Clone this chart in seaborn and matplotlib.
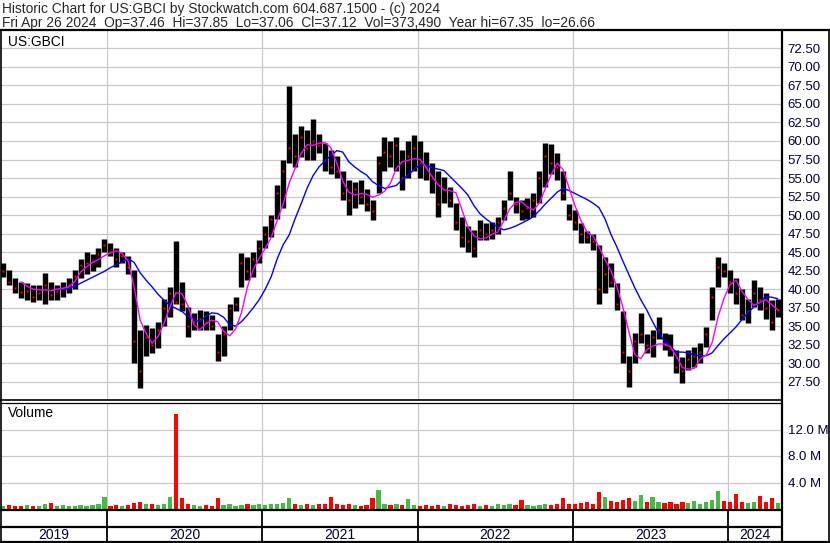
import numpy as np
import pandas as pd
import matplotlib
matplotlib.use("Agg")
import matplotlib.pyplot as plt
from matplotlib.lines import Line2D
import seaborn as sns

# ---------------- data (bi-weekly bars) ----------------
dates = pd.date_range("2019-05-03", periods=131, freq="14D")

high = [43.5, 42.6, 41.5, 41.0, 40.8, 40.5, 40.5, 42.2, 41.0, 40.5,
        41.0, 41.5, 42.6, 44.0, 45.0, 44.8, 45.5, 46.7, 46.2, 45.5,
        45.0, 44.5, 42.6, 34.5, 35.2, 34.8, 35.5, 38.6, 40.3, 46.5,
        41.0, 37.6, 36.8, 37.2, 37.0, 36.5, 34.0, 35.0, 38.0, 39.0,
        44.9, 44.4, 45.0, 46.6, 48.5, 50.0, 54.0, 57.5, 67.4, 61.0,
        62.0, 61.5, 63.0, 61.0, 59.7, 58.8, 58.0, 56.0, 54.7, 54.5,
        54.7, 53.5, 52.0, 58.0, 60.5, 60.0, 60.5, 58.8, 60.0, 60.8,
        60.0, 58.5, 57.0, 56.0, 55.2, 53.8, 51.6, 49.7, 48.5, 48.0,
        49.3, 48.9, 49.0, 49.7, 52.0, 56.0, 52.5, 52.0, 52.3, 53.0,
        56.0, 59.7, 59.6, 58.4, 56.0, 51.5, 50.7, 48.9, 47.8, 47.5,
        46.0, 44.4, 43.5, 40.8, 37.0, 31.0, 34.1, 36.8, 34.0, 34.5,
        36.3, 34.1, 34.0, 31.8, 30.9, 31.8, 32.2, 32.7, 34.9, 40.3,
        44.4, 43.5, 42.6, 41.5, 40.0, 38.6, 41.2, 40.3, 39.5, 38.5,
        38.6]

low = [41.7, 40.5, 39.5, 38.8, 38.5, 38.2, 38.5, 38.0, 38.5, 38.5,
       39.0, 39.5, 40.0, 41.5, 42.0, 42.5, 43.0, 45.0, 44.5, 43.0,
       43.5, 42.0, 30.0, 26.7, 31.0, 31.4, 32.0, 35.0, 36.3, 38.0,
       37.0, 33.5, 34.5, 34.5, 34.5, 34.5, 30.3, 31.0, 34.5, 37.0,
       40.3, 41.2, 41.7, 43.5, 45.5, 47.0, 49.5, 51.0, 57.0, 56.5,
       57.8, 57.5, 57.4, 58.4, 56.0, 55.5, 55.0, 52.0, 50.0, 51.0,
       51.5, 50.5, 49.3, 53.0, 56.0, 56.5, 56.0, 53.4, 55.0, 56.0,
       55.0, 54.7, 53.0, 49.7, 51.6, 51.1, 48.0, 45.7, 45.0, 44.4,
       46.6, 46.6, 46.8, 47.5, 49.3, 52.0, 50.3, 49.3, 49.5, 49.8,
       51.6, 53.8, 55.6, 54.7, 52.0, 49.3, 48.0, 46.2, 46.2, 45.3,
       38.0, 39.5, 40.3, 37.2, 30.0, 26.8, 30.0, 32.7, 31.4, 30.9,
       33.2, 31.8, 31.0, 28.7, 27.3, 29.1, 29.5, 30.0, 32.2, 35.8,
       40.3, 41.7, 39.5, 38.0, 35.8, 35.4, 37.6, 37.2, 36.0, 34.5,
       36.3]

close = [42.5, 41.0, 40.2, 39.6, 39.8, 39.0, 39.5, 40.5, 39.2, 39.8,
         40.2, 40.6, 41.8, 43.2, 43.5, 43.8, 44.8, 46.0, 45.0, 44.0,
         44.5, 43.0, 33.0, 29.0, 33.5, 32.5, 34.5, 37.5, 39.5, 38.3,
         38.0, 35.0, 35.5, 36.0, 35.5, 35.0, 31.5, 34.0, 37.5, 38.0,
         43.5, 42.5, 44.0, 45.5, 47.5, 49.5, 53.0, 56.0, 59.0, 58.0,
         60.5, 59.0, 60.0, 59.5, 57.5, 56.5, 56.0, 53.0, 52.0, 53.5,
         52.5, 51.5, 50.5, 57.0, 58.5, 58.0, 59.5, 55.0, 58.0, 59.0,
         57.0, 56.5, 55.0, 51.5, 53.5, 52.0, 49.0, 47.0, 46.5, 45.5,
         48.0, 47.5, 48.0, 49.0, 51.0, 53.0, 51.5, 50.5, 51.0, 52.0,
         55.0, 58.0, 57.0, 56.5, 53.0, 50.0, 49.0, 47.5, 47.0, 46.5,
         40.0, 42.0, 41.0, 38.0, 31.5, 29.0, 33.0, 34.0, 32.5, 33.5,
         34.5, 32.5, 32.0, 29.5, 29.0, 30.5, 31.0, 31.5, 34.0, 39.0,
         43.0, 42.5, 41.0, 39.5, 36.5, 37.0, 39.5, 38.5, 37.5, 35.5,
         37.12]

nan = np.nan
ma_short = [nan, nan, nan, 41.0, 40.4, 40.0, 39.9, 39.9, 39.8, 40.0,
            40.1, 40.3, 41.0, 42.3, 43.0, 43.6, 44.0, 44.5, 44.9, 45.2,
            44.8, 43.8, 40.2, 35.8, 34.0, 32.7, 33.6, 35.4, 37.6, 39.5,
            39.4, 37.8, 35.2, 34.5, 35.3, 35.8, 35.6, 34.3, 33.7, 34.6,
            36.8, 40.3, 42.7, 44.2, 45.5, 47.0, 49.3, 51.5, 54.3, 56.3,
            58.3, 59.5, 59.4, 59.7, 59.8, 59.1, 57.0, 54.6, 53.1, 52.7,
            52.9, 52.8, 52.4, 52.7, 53.2, 54.3, 56.3, 57.2, 57.4, 57.6,
            57.5, 56.4, 55.2, 54.1, 53.4, 53.3, 53.0, 50.7, 48.4, 47.2,
            46.8, 46.9, 47.4, 47.7, 49.2, 50.8, 51.7, 51.8, 51.1, 50.7,
            51.6, 53.6, 55.5, 57.0, 56.1, 53.6, 51.2, 49.2, 47.7, 47.2,
            45.7, 44.0, 42.5, 40.3, 37.6, 34.3, 31.2, 30.6, 31.8, 32.3,
            32.6, 32.6, 32.2, 30.9, 29.4, 29.2, 29.3, 30.6, 31.1, 32.8,
            36.3, 38.8, 40.6, 41.2, 39.7, 38.6, 37.8, 38.2, 38.6, 37.9,
            37.2]

ma_long = [nan, nan, nan, nan, nan, nan, nan, nan, nan, 40.0,
           40.0, 40.1, 40.4, 40.8, 41.2, 41.6, 42.0, 42.4, 42.9, 43.3,
           43.7, 44.1, 43.6, 42.2, 41.2, 40.3, 39.3, 38.5, 37.8, 37.4,
           37.0, 36.3, 35.9, 35.6, 36.3, 36.8, 36.7, 36.2, 35.2, 35.0,
           35.6, 36.5, 37.5, 38.6, 40.0, 41.7, 44.1, 46.0, 47.3, 49.5,
           51.5, 53.6, 55.3, 56.5, 57.3, 58.0, 58.7, 58.5, 57.2, 56.5,
           55.9, 55.4, 54.5, 54.0, 53.6, 53.8, 54.0, 54.8, 55.4, 56.2,
           56.8, 56.7, 56.4, 56.2, 56.0, 55.2, 54.4, 53.6, 52.7, 51.3,
           50.2, 49.5, 48.9, 48.4, 48.0, 48.2, 48.5, 48.9, 49.3, 49.8,
           50.6, 51.5, 52.3, 53.1, 53.6, 53.3, 52.9, 52.5, 52.1, 51.6,
           51.0, 49.5, 47.4, 45.7, 43.8, 42.0, 40.2, 38.6, 37.2, 35.6,
           34.1, 33.0, 32.2, 31.5, 31.5, 31.4, 31.1, 31.0, 31.0, 31.4,
           32.4, 33.3, 34.1, 34.9, 35.9, 36.8, 37.6, 38.2, 39.0, 38.9,
           38.7]

volume_m = [0.5, 0.6, 0.5, 0.4, 0.6, 0.5, 0.5, 0.7, 0.9, 0.5,
            0.6, 0.5, 0.4, 0.6, 0.5, 0.6, 0.7, 1.8, 0.5, 0.6,
            0.5, 0.6, 0.9, 1.0, 0.8, 0.7, 0.6, 0.7, 1.8, 14.3,
            1.7, 0.7, 0.6, 0.5, 0.6, 0.5, 1.7, 0.6, 0.7, 0.5,
            0.6, 0.8, 0.6, 0.7, 0.6, 0.8, 0.7, 0.9, 1.7, 0.7,
            0.6, 0.8, 0.6, 0.7, 0.8, 1.8, 0.7, 0.6, 0.8, 0.6,
            0.5, 0.6, 1.7, 2.9, 0.7, 0.6, 0.8, 0.6, 1.5, 0.6,
            0.5, 0.6, 0.5, 0.6, 0.5, 0.7, 0.6, 0.5, 0.6, 0.7,
            0.5, 0.6, 0.5, 0.7, 0.6, 0.8, 0.6, 1.4, 0.6, 0.5,
            0.6, 0.7, 0.6, 0.8, 1.6, 0.7, 0.8, 0.9, 1.0, 0.8,
            2.6, 1.8, 1.2, 1.0, 1.4, 1.6, 1.2, 2.1, 1.0, 1.8,
            1.1, 0.9, 1.0, 0.8, 1.1, 0.9, 1.2, 0.8, 1.0, 1.3,
            2.7, 1.2, 1.0, 2.3, 1.1, 0.9, 1.0, 1.9, 1.0, 1.7,
            0.9]

price_ticks = [27.5, 30.0, 32.5, 35.0, 37.5, 40.0, 42.5, 45.0, 47.5, 50.0,
               52.5, 55.0, 57.5, 60.0, 62.5, 65.0, 67.5, 70.0, 72.5]
volume_ticks = [4.0, 8.0, 12.0]
year_labels = ["2019", "2020", "2021", "2022", "2023", "2024"]
year_starts = ["2020-01-01", "2021-01-01", "2022-01-01", "2023-01-01", "2024-01-01"]

header1 = "Historic Chart for US:GBCI by Stockwatch.com 604.687.1500 - (c) 2024"
header2 = ("Fri Apr 26 2024  Op=37.46  Hi=37.85  Lo=37.06  Cl=37.12  "
           "Vol=373,490  Year hi=67.35  lo=26.66")

# ---------------- figure ----------------
sns.set_style("white")
plt.rcParams["font.family"] = ["Liberation Sans", "DejaVu Sans"]

W, H = 830, 543
fig = plt.figure(figsize=(W / 100, H / 100), dpi=100)
fig.patch.set_facecolor("white")

def ax_px(x0, y0, x1, y1):
    return fig.add_axes([x0 / W, 1 - y1 / H, (x1 - x0) / W, (y1 - y0) / H])

def fig_line(x0, y0, x1, y1, lw):
    fig.add_artist(Line2D([x0 / W, x1 / W], [1 - y0 / H, 1 - y1 / H],
                          transform=fig.transFigure, color="black", lw=lw,
                          solid_capstyle="butt"))

xmin, xmax = pd.Timestamp("2019-04-28"), pd.Timestamp("2024-05-06")
ystarts = [pd.Timestamp(d) for d in year_starts]
grid_c = "#c8c8c8"
lab_c = "#000033"

# price panel
ax = ax_px(1, 31, 782, 400)
ax.set_xlim(xmin, xmax)
ax.set_ylim(25.03, 74.85)
ax.set_yticks(price_ticks)
ax.set_yticklabels([f"{v:.2f}" for v in price_ticks])
ax.yaxis.tick_right()
ax.tick_params(axis="y", length=0, pad=4, labelsize=9.5, labelcolor=lab_c)
ax.set_xticks(ystarts)
ax.tick_params(axis="x", length=0, labelbottom=False)
ax.grid(True, color=grid_c, lw=0.9)
ax.set_axisbelow(True)
for s in ax.spines.values():
    s.set_visible(False)

ax.vlines(dates, low, high, color="black", lw=3.9, zorder=2)
ax.plot(dates, close, ls="none", marker="s", ms=1.8, color="#ff0000",
        mec="none", zorder=3)
sns.lineplot(x=dates, y=ma_long, ax=ax, color="#0000ff", lw=1.0, zorder=4)
sns.lineplot(x=dates, y=ma_short, ax=ax, color="#ff00ff", lw=1.0, zorder=5)
ax.set_xlabel("")
ax.set_ylabel("")
ax.text(7 / 781, 1 - 11 / 369, "US:GBCI", transform=ax.transAxes,
        fontsize=9.9, va="center", ha="left", color="black")

# volume panel
vax = ax_px(1, 403, 782, 509)
vax.set_xlim(xmin, xmax)
vax.set_ylim(0, 16)
vcolors = ["#44bb44"] + ["#ff0000" if c < p else "#44bb44"
                         for p, c in zip(close[:-1], close[1:])]
vax.bar(dates, volume_m, width=10, color=vcolors, linewidth=0, zorder=2)
vax.set_yticks(volume_ticks)
vax.set_yticklabels([f"{v:.1f} M" for v in volume_ticks])
vax.yaxis.tick_right()
vax.tick_params(axis="y", length=0, pad=4, labelsize=9.5, labelcolor=lab_c)
vax.set_xticks(ystarts)
vax.tick_params(axis="x", length=0, labelbottom=False)
vax.grid(True, color=grid_c, lw=0.9)
vax.set_axisbelow(True)
for s in vax.spines.values():
    s.set_visible(False)
vax.text(7 / 781, 1 - 10 / 106, "Volume", transform=vax.transAxes,
         fontsize=9.9, va="center", ha="left", color="black")

# date strip
sax = ax_px(1, 509, 782, 541)
sax.set_xlim(xmin, xmax)
sax.set_ylim(0, 1)
sax.axis("off")
for d in ystarts:
    sax.plot([d, d], [0, 1], color="black", lw=1.3)
bounds = [xmin] + ystarts + [pd.Timestamp("2024-05-06")]
for lab, a, b in zip(year_labels, bounds[:-1], bounds[1:]):
    sax.text(a + (b - a) / 2, 0.2, lab, ha="center", va="center",
             fontsize=10, color=lab_c)

# frame lines
fig_line(0, 30, 830, 30, 1.6)
fig_line(0.7, 30, 0.7, 542, 1.2)
fig_line(782, 30, 782, 542, 1.6)
fig_line(829.3, 30, 829.3, 542, 1.2)
fig_line(0, 400, 782, 400, 1.2)
fig_line(0, 403, 782, 403, 0.9)
fig_line(0, 509.5, 782, 509.5, 1.6)
fig_line(0, 527, 782, 527, 1.6)
fig_line(0, 541.5, 830, 541.5, 1.6)

# header
fig.text(2 / W, 1 - 8.5 / H, header1, fontsize=9.9, va="center", ha="left")
fig.text(2 / W, 1 - 22.5 / H, header2, fontsize=9.9, va="center", ha="left")

fig.savefig("out.png", dpi=100, facecolor="white")
